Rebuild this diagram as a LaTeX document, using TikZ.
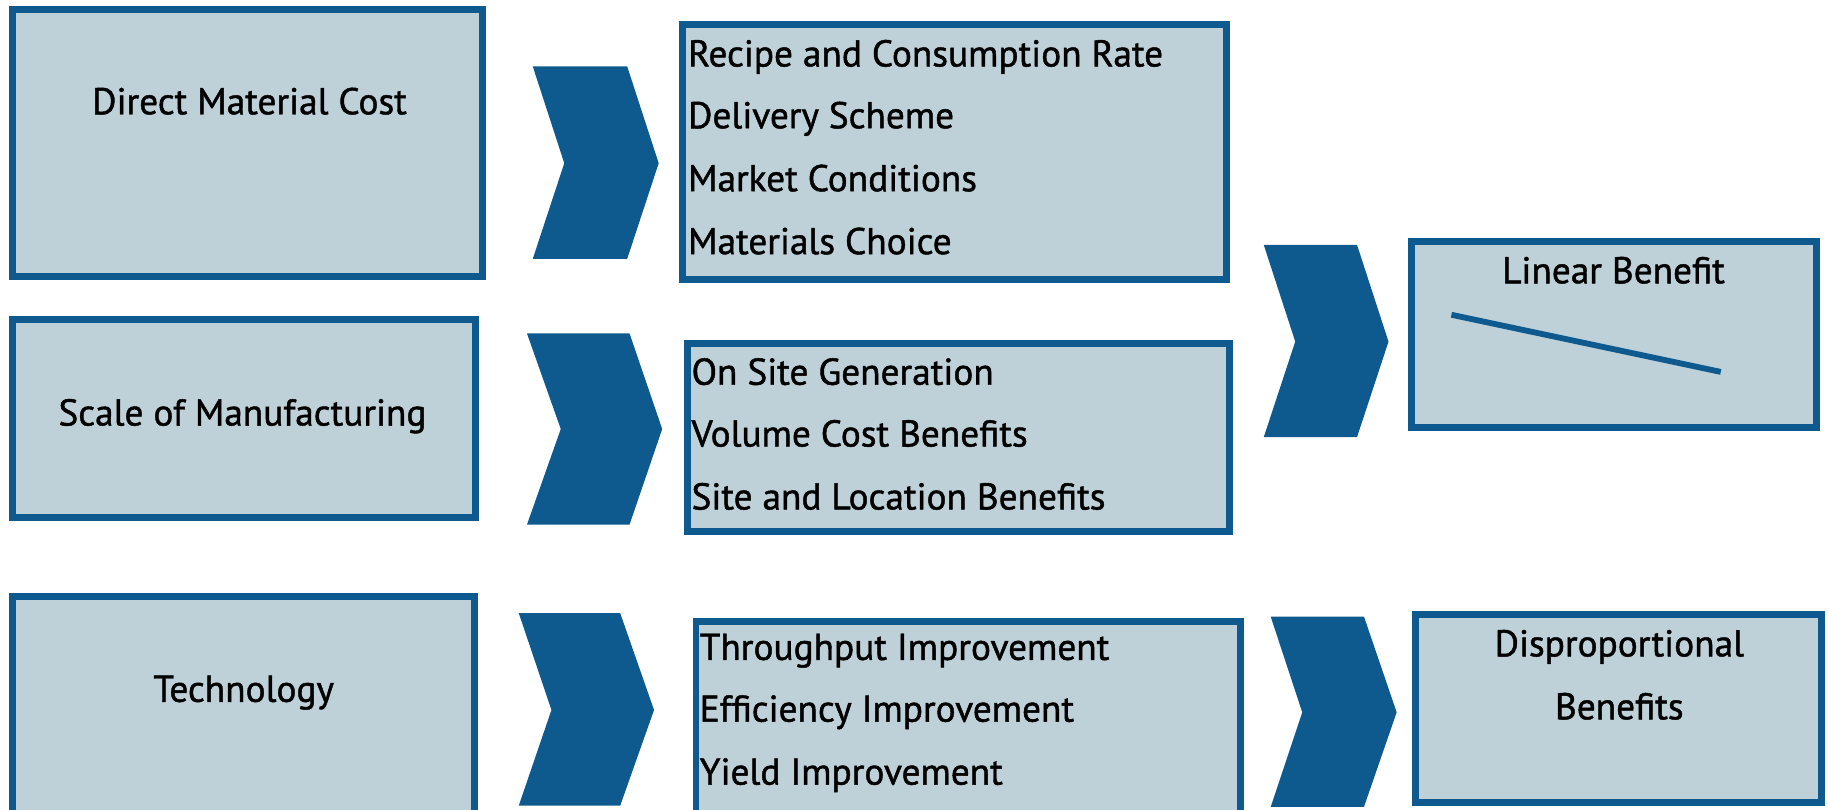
\documentclass[tikz,border=0pt]{standalone}
\usepackage{fontspec}
\setmainfont[FakeBold=1.2]{PT Sans}
\definecolor{frameblue}{HTML}{0E5A8F}
\definecolor{boxfill}{HTML}{BFD1D8}
\begin{document}
\begin{tikzpicture}[x=1pt,y=-1pt,
  panel/.style={draw=frameblue, fill=boxfill, line width=6pt},
  chevron/.style={fill=frameblue, draw=none},
  label/.style={font=\fontsize{32}{38}\selectfont, inner sep=0pt, text=black},
  item/.style={label, anchor=base west},
  title/.style={label, anchor=base}]
\useasboundingbox (0,0) rectangle (1568,694);

% panels
\draw[panel] (11,8) rectangle (414,237);
\draw[panel] (585,21) rectangle (1052,240);
\draw[panel] (11,274) rectangle (408,444);
\draw[panel] (590,295) rectangle (1055,456);
\draw[panel] (1211,207) rectangle (1558,367);
\draw[panel] (11,512) rectangle (407,700);
\draw[panel] (597,533) rectangle (1064,700);
\draw[panel] (1214,527) rectangle (1562,688);

% chevrons
\fill[chevron] (457,57) -- (538,57) -- (565,140) -- (538,222) -- (457,222) -- (484,140) -- cycle;
\fill[chevron] (452,286) -- (540,286) -- (568,368) -- (540,450) -- (452,450) -- (481,368) -- cycle;
\fill[chevron] (1084,210) -- (1164,210) -- (1191,293) -- (1164,375) -- (1084,375) -- (1111,293) -- cycle;
\fill[chevron] (445,526) -- (532,526) -- (561,609) -- (532,691) -- (445,691) -- (473,609) -- cycle;
\fill[chevron] (1090,529) -- (1170,529) -- (1198,611) -- (1170,692) -- (1090,692) -- (1117,611) -- cycle;

% titles
\node[title] (t1) at (214,98) {Direct Material Cost};
\node[title] (t2) at (208,365) {Scale of Manufacturing};
\node[title] (t3) at (209,602) {Technology};
\node[title] (t4) at (1384,243) {Linear Benefit};
\node[title] (t5) at (1389,563) {Disproportional};
\node[title] (t6) at (1389,617) {Benefits};

% lists
\node[item] (a1) at (590,57) {Recipe and Consumption Rate};
\node[item] (a2) at (590,110) {Delivery Scheme};
\node[item] (a3) at (590,164) {Market Conditions};
\node[item] (a4) at (590,218) {Materials Choice};
\node[item] (b1) at (593,330) {On Site Generation};
\node[item] (b2) at (593,383) {Volume Cost Benefits};
\node[item] (b3) at (593,437) {Site and Location Benefits};
\node[item] (c1) at (600,566) {Throughput Improvement};
\node[item] (c2) at (600,619) {Efficiency Improvement};
\node[item] (c3) at (600,673) {Yield Improvement};

% trend line
\coordinate (l1) at (1245,270);
\coordinate (l2) at (1476,319);
\draw[frameblue, line width=5pt] (l1) -- (l2);
\end{tikzpicture}
\end{document}
